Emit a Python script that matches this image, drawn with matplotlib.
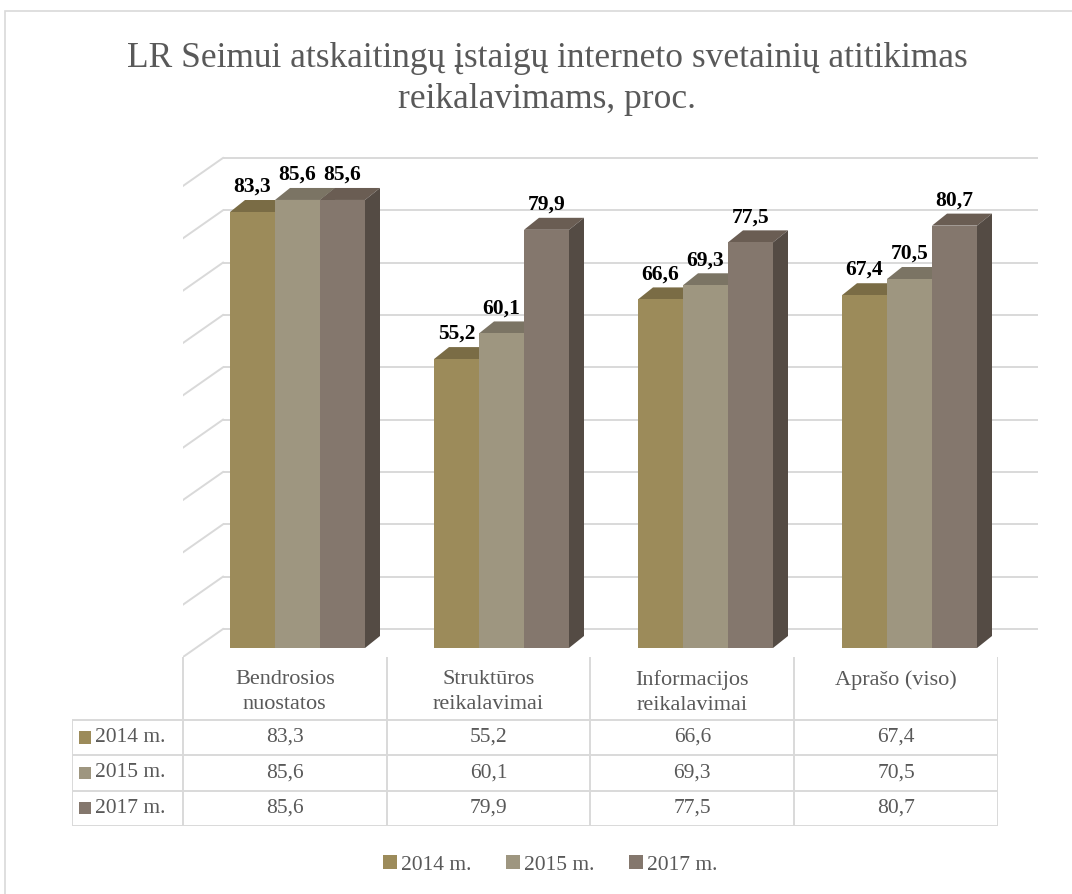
import matplotlib
matplotlib.use('Agg')
import matplotlib.pyplot as plt
from matplotlib.patches import Polygon, Rectangle, Patch

plt.rcParams['font.family'] = ['Liberation Serif', 'DejaVu Serif']

categories = ['Bendrosios\nnuostatos', 'Struktūros\nreikalavimai', 'Informacijos\nreikalavimai', 'Aprašo (viso)']
series_names = ['2014 m.', '2015 m.', '2017 m.']
v2014 = [83.3, 55.2, 66.6, 67.4]
v2015 = [85.6, 60.1, 69.3, 70.5]
v2017 = [85.6, 79.9, 77.5, 80.7]
series = [v2014, v2015, v2017]
grid_values = [0, 10, 20, 30, 40, 50, 60, 70, 80, 90]

front_colors = ['#9C8B5A', '#9E9680', '#84776D']
top_colors = ['#7A6C45', '#7B7464', '#6A5D53']
side_colors = ['#62573A', '#676153', '#544B44']
grid_color = '#D9D9D9'
text_color = '#595959'

W, H = 1072, 894
fig = plt.figure(figsize=(W / 100, H / 100), dpi=100)

# ramka aplink diagramą (matosi kairė ir viršus)
fig.patches.append(Rectangle((5 / W, -0.1), 1.2, 1.1 - 11 / H, transform=fig.transFigure,
                             fill=False, edgecolor=grid_color, lw=1.2))

fig.text(547 / W, 1 - 79 / H,
         'LR Seimui atskaitingų įstaigų interneto svetainių atitikimas\nreikalavimams, proc.',
         ha='center', va='center', fontsize=25.5, color=text_color, linespacing=1.33)

# ---- stulpeliai (pseudo 3D) ----
CW = 204.0      # px vienai kategorijai
PXU = 5.234     # px vienam vienetui
ax = fig.add_axes([183 / W, 1 - 657 / H, (1045 - 183) / W, (657 - 150) / H])
ax.set_xlim(0, (1045 - 183) / CW)
ax.set_ylim(-9 / PXU, (648 - 150) / PXU)
ax.axis('off')

wall_dx = 40 / CW
wall_dy = 19 / PXU
front_dy = 9 / PXU
gx_end = (1038 - 183) / CW
for k in grid_values:
    ax.plot([wall_dx, gx_end], [k + wall_dy, k + wall_dy], color=grid_color, lw=1.4, zorder=1,
            solid_capstyle='butt')
    ax.plot([0, wall_dx], [k - front_dy, k + wall_dy], color=grid_color, lw=1.4, zorder=1)

bw = 45 / CW
start = 47 / CW
dx = 15 / CW
dy = 12 / PXU
z = 2
for i in range(len(categories)):
    for j, vals in enumerate(series):
        v = vals[i]
        x = i + start + j * bw
        ax.bar(x, v, width=bw, align='edge', color=front_colors[j], zorder=z + 0.5, lw=0)
        ax.add_patch(Polygon([(x, v), (x + bw, v), (x + bw + dx, v + dy), (x + dx, v + dy)],
                             closed=True, facecolor=top_colors[j], lw=0, zorder=z))
        ax.add_patch(Polygon([(x + bw, 0), (x + bw + dx, dy), (x + bw + dx, v + dy), (x + bw, v)],
                             closed=True, facecolor=side_colors[j], lw=0, zorder=z))
        ax.text(x + bw / 2, v + dy + 0.6, f'{v:.1f}'.replace('.', ','), ha='center', va='bottom',
                fontsize=15.5, fontweight='bold', color='black', zorder=20)
        z += 1

# ---- duomenų lentelė ----
RH = 35.0
hdr = 62 / RH
tx0 = (72 - 183) / CW
tab = fig.add_axes([72 / W, 1 - 826 / H, (998 - 72) / W, (826 - 657) / H])
tab.set_xlim(tx0, 4)
tab.set_ylim(hdr + 3, 0)
tab.axis('off')

lc = dict(color=grid_color, lw=1.4, solid_capstyle='butt')
for r in range(4):
    tab.plot([tx0, 4], [hdr + r, hdr + r], **lc)
tab.plot([tx0, tx0], [hdr, hdr + 3], **lc)
for c in range(5):
    tab.plot([c, c], [0, hdr + 3], **lc)

for c, name in enumerate(categories):
    tab.text(c + 0.5, 0.38, name, ha='center', va='top', fontsize=16, color=text_color,
             linespacing=1.4)

sq_w = 12 / CW
sq_h = 12 / RH
for r, (name, vals) in enumerate(zip(series_names, series)):
    yc = hdr + r + 0.5
    tab.add_patch(Rectangle((-0.478 - sq_w / 2, yc - sq_h / 2), sq_w, sq_h,
                            facecolor=front_colors[r], lw=0))
    tab.text(-0.43, yc, name, ha='left', va='center', fontsize=15.5, color=text_color)
    for c, v in enumerate(vals):
        tab.text(c + 0.5, yc, f'{v:.1f}'.replace('.', ','), ha='center', va='center',
                 fontsize=15.5, color=text_color)

handles = [Patch(facecolor=front_colors[j], edgecolor='none') for j in range(3)]
fig.legend(handles, series_names, loc='center', bbox_to_anchor=(550 / W, 1 - 865 / H), ncol=3,
           frameon=False, fontsize=15.5, handlelength=0.65, handleheight=0.65,
           handletextpad=0.2, columnspacing=1.6, labelcolor=text_color)

fig.savefig('out.png', dpi=100)
